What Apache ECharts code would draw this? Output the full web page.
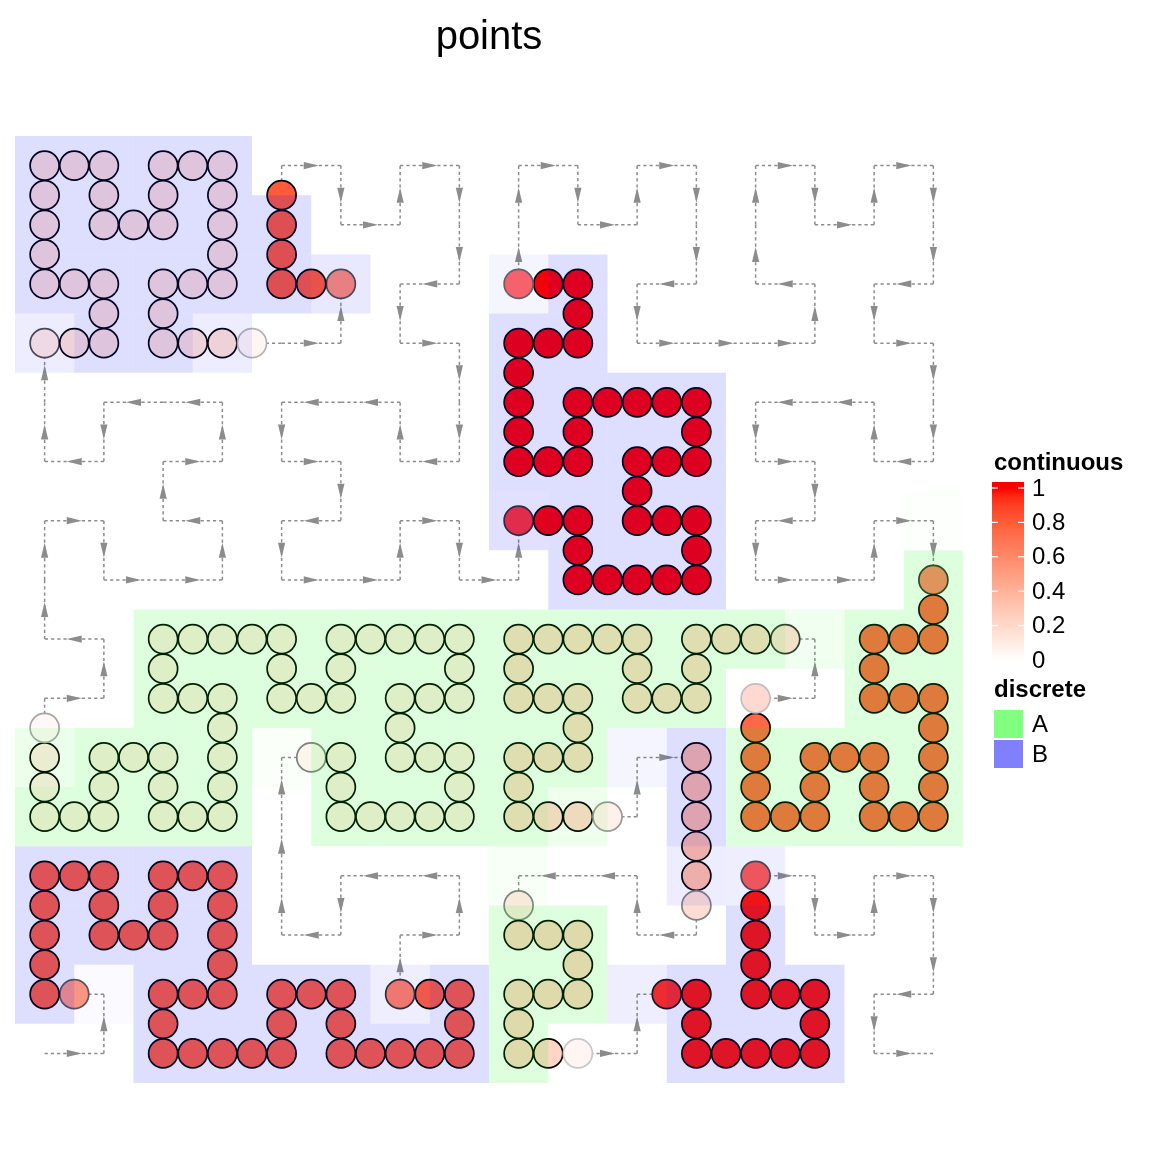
<!DOCTYPE html>
<html><head><meta charset="utf-8">
<script src="https://cdn.jsdelivr.net/npm/echarts@6/dist/echarts.min.js"></script>
<style>html,body{margin:0;padding:0;background:#fff}#c{width:1152px;height:1152px}</style>
</head><body><div id="c"></div>
<script>
// ---------- DATA ----------
const curveLevel = 4;                       // 16 x 16 Hilbert curve, positions 0..255
const runClass   = ['B','A','B','B','B','A','A','B','A','B'];
const runValue   = [0.78, 0.10, 0.15, 0.80, 1.00, 0.75, 0.20, 0.35, 0.22, 0.98];
// point runs (curve positions in half steps) and transparency of first / last point
const ptFrom      = [2.5, 33.5, 80, 98, 129, 191, 206.5, 222, 229.5, 237.5];
const ptTo        = [23, 59.5, 95.5, 100.5, 147, 204, 219.5, 224.5, 235, 245];
const ptAlphaFrom = [0.65, 0.5, 0.7, 0.7, 0.8, 0.8, 0.8, 1.0, 0.5, 0.9];
const ptAlphaTo   = [0.8, 0.35, 0.3, 1.0, 0.6, 0.25, 0.4, 0.5, 0.22, 0.7];
// rectangle runs (cells) and partial coverage of first / last cell
const rectFrom      = [2, 33, 80, 98, 129, 190, 206, 221, 229, 237];
const rectTo        = [23, 59, 95, 100, 147, 203, 219, 224, 234, 245];
const rectAlphaFrom = [0.15, 0.15, 0.55, 0.7, 0.9, 0.06, 0.45, 0.3, 0.25, 0.5];
const rectAlphaTo   = [0.5, 0.6, 0.55, 1.0, 0.3, 1.0, 0.5, 0.55, 1.0, 0.5];
// legends
const contTicks  = [0, 0.2, 0.4, 0.6, 0.8, 1];
const contLabels = ['0', '0.2', '0.4', '0.6', '0.8', '1'];
const discLevels = ['A', 'B'];
const discColors = ['#80FF80', '#8080FF'];
const rectFills  = ['0,255,0', '0,0,255'];

// ---------- helpers ----------
const N = Math.pow(2, curveLevel);
function d2xy(d) {
  let x = 0, y = 0, t = d;
  for (let s = 1; s < N; s *= 2) {
    const rx = 1 & (t >> 1);
    const ry = 1 & (t ^ rx);
    if (ry === 0) {
      if (rx === 1) { x = s - 1 - x; y = s - 1 - y; }
      const tmp = x; x = y; y = tmp;
    }
    x += s * rx; y += s * ry;
    t >>= 2;
  }
  return [x, y];
}
function curvePos(p) {
  const i = Math.floor(p), f = p - i;
  const a = d2xy(i);
  if (f === 0) return a;
  const b = d2xy(i + 1);
  return [a[0] + (b[0] - a[0]) * f, a[1] + (b[1] - a[1]) * f];
}
function lab2rgb(L, a, b) {
  const fy = (L + 16) / 116, fx = fy + a / 500, fz = fy - b / 200;
  const f = t => t > 6 / 29 ? t * t * t : 3 * (6 / 29) * (6 / 29) * (t - 4 / 29);
  const X = 0.95047 * f(fx), Y = f(fy), Z = 1.08883 * f(fz);
  const r = 3.2404542 * X - 1.5371385 * Y - 0.4985314 * Z;
  const g = -0.9692660 * X + 1.8760108 * Y + 0.0415560 * Z;
  const bb = 0.0556434 * X - 0.2040259 * Y + 1.0572252 * Z;
  const gm = c => { c = Math.max(0, Math.min(1, c)); return 255 * (c <= 0.0031308 ? 12.92 * c : 1.055 * Math.pow(c, 1 / 2.4) - 0.055); };
  return [gm(r), gm(g), gm(bb)];
}
const RED_LAB = [53.2408, 80.0925, 67.2032];
function ramp(v) { return lab2rgb(100 + (RED_LAB[0] - 100) * v, RED_LAB[1] * v, RED_LAB[2] * v); }
function mixWhite(c, a) { return 'rgb(' + c.map(x => Math.round(x * a + 255 * (1 - a))).join(',') + ')'; }

// ---------- build marks ----------
const segs = [];
for (let i = 0; i < N * N - 1; i++) { const a = d2xy(i), b = d2xy(i + 1); segs.push([a[0], a[1], b[0], b[1]]); }

const points = [];
for (let r = 0; r < runValue.length; r++) {
  const col = ramp(runValue[r]);
  const n = Math.round((ptTo[r] - ptFrom[r]) * 2);
  for (let k = 0; k <= n; k++) {
    const p = ptFrom[r] + k / 2;
    let a = 1;
    if (k === 0) a = ptAlphaFrom[r];
    if (k === n) a = ptAlphaTo[r];
    points.push({ value: curvePos(p), itemStyle: { color: mixWhite(col, a), borderColor: mixWhite([0, 0, 0], a) } });
  }
}

const cells = [];
for (let r = 0; r < runValue.length; r++) {
  for (let d = rectFrom[r]; d <= rectTo[r]; d++) {
    let a = 1;
    if (d === rectFrom[r]) a = rectAlphaFrom[r];
    if (d === rectTo[r]) a = rectAlphaTo[r];
    const xy = d2xy(d);
    cells.push([xy[0], xy[1], a, discLevels.indexOf(runClass[r])]);
  }
}

// ---------- legend graphics ----------
const FONT = '"Liberation Sans", Arial, Helvetica, sans-serif';
const barTop = 482, barH = 180, tick0 = 660, tickSpan = 172, barX = 992, barW = 32;
const stops = [];
for (let k = 0; k <= 20; k++) {
  const v = 1 - k / 20;
  const yy = tick0 - v * tickSpan;
  stops.push({ offset: Math.max(0, Math.min(1, (yy - barTop) / barH)), color: mixWhite(ramp(v), 1) });
}
stops.unshift({ offset: 0, color: mixWhite(ramp(1), 1) });
stops.push({ offset: 1, color: '#ffffff' });
const graphics = [
  { type: 'text', x: 489, y: 38, style: { text: 'points', font: '40px ' + FONT, fill: '#000', align: 'center', verticalAlign: 'middle' } },
  { type: 'text', x: 994, y: 463, style: { text: 'continuous', font: 'bold 24px ' + FONT, fill: '#000', align: 'left', verticalAlign: 'middle' } },
  { type: 'rect', shape: { x: barX, y: barTop, width: barW, height: barH }, style: { fill: new echarts.graphic.LinearGradient(0, 0, 0, 1, stops) } },
  { type: 'text', x: 994, y: 690, style: { text: 'discrete', font: 'bold 24px ' + FONT, fill: '#000', align: 'left', verticalAlign: 'middle' } }
];
contTicks.forEach((v, i) => {
  const yy = tick0 - v * tickSpan;
  graphics.push({ type: 'line', shape: { x1: barX, y1: yy, x2: barX + 6, y2: yy }, style: { stroke: '#fff', lineWidth: 1.2 } });
  graphics.push({ type: 'line', shape: { x1: barX + barW - 6, y1: yy, x2: barX + barW, y2: yy }, style: { stroke: '#fff', lineWidth: 1.2 } });
  graphics.push({ type: 'text', x: 1032, y: yy + 1, style: { text: contLabels[i], font: '24px ' + FONT, fill: '#000', align: 'left', verticalAlign: 'middle' } });
});
discLevels.forEach((lv, i) => {
  const yy = 710 + i * 30;
  graphics.push({ type: 'rect', shape: { x: 994, y: yy, width: 29, height: 28 }, style: { fill: discColors[i] } });
  graphics.push({ type: 'text', x: 1032, y: yy + 15, style: { text: lv, font: '24px ' + FONT, fill: '#000', align: 'left', verticalAlign: 'middle' } });
});

// ---------- chart ----------
const chart = echarts.init(document.getElementById('c'), null, { renderer: 'canvas' });
chart.setOption({
  animation: false,
  backgroundColor: '#ffffff',
  grid: { left: 15, top: 136, width: 948, height: 947 },
  xAxis: { type: 'value', min: -0.5, max: N - 0.5, show: false },
  yAxis: { type: 'value', min: -0.5, max: N - 0.5, show: false },
  graphic: graphics,
  series: [
    {
      type: 'custom', z: 1, silent: true, data: segs, encode: { x: [0, 2], y: [1, 3] },
      renderItem: function (params, api) {
        const p0 = api.coord([api.value(0), api.value(1)]);
        const p1 = api.coord([api.value(2), api.value(3)]);
        const dx = p1[0] - p0[0], dy = p1[1] - p0[1], L = Math.sqrt(dx * dx + dy * dy);
        const ux = dx / L, uy = dy / L, nx = -uy, ny = ux;
        const mx = (p0[0] + p1[0]) / 2, my = (p0[1] + p1[1]) / 2;
        const tip = [mx + ux * 7.5, my + uy * 7.5], base = [mx - ux * 7.5, my - uy * 7.5];
        return {
          type: 'group', children: [
            { type: 'line', shape: { x1: p0[0], y1: p0[1], x2: p1[0], y2: p1[1] }, style: { stroke: '#8c8c8c', lineWidth: 1.5, lineDash: [3.2, 3] } },
            { type: 'polygon', shape: { points: [tip, [base[0] + nx * 3.6, base[1] + ny * 3.6], [base[0] - nx * 3.6, base[1] - ny * 3.6]] }, style: { fill: '#8c8c8c' } }
          ]
        };
      }
    },
    {
      type: 'scatter', z: 2, silent: true, data: points, symbol: 'circle', symbolSize: 29,
      itemStyle: { borderWidth: 1.7, opacity: 1 }
    },
    {
      type: 'custom', z: 3, silent: true, data: cells, encode: { x: 0, y: 1 },
      renderItem: function (params, api) {
        const c = api.value(0), r = api.value(1), a = api.value(2), k = api.value(3);
        const p0 = api.coord([c - 0.5, r + 0.5]), p1 = api.coord([c + 0.5, r - 0.5]);
        return { type: 'rect', shape: { x: p0[0], y: p0[1], width: p1[0] - p0[0], height: p1[1] - p0[1] },
                 style: { fill: 'rgba(' + rectFills[k] + ',' + (0.13 * a).toFixed(4) + ')' } };
      }
    }
  ]
});
</script></body></html>
